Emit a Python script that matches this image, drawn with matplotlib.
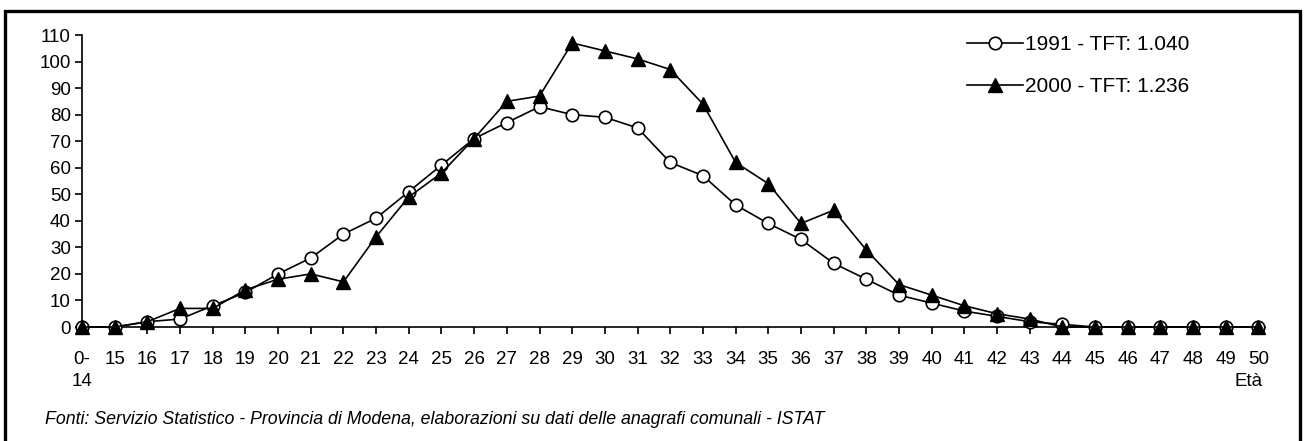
import matplotlib
matplotlib.use('Agg')
import matplotlib.pyplot as plt
from matplotlib.patches import Rectangle

plt.rcParams['font.family'] = ['Liberation Sans', 'DejaVu Sans']

eta = ['0-\n14'] + [str(a) for a in range(15, 51)]
tassi_1991 = [0, 0, 2, 3, 8, 13, 20, 26, 35, 41, 51, 61, 71, 77, 83, 80, 79, 75, 62, 57,
              46, 39, 33, 24, 18, 12, 9, 6, 4, 2, 1, 0, 0, 0, 0, 0, 0]
tassi_2000 = [0, 0, 2, 7, 7, 14, 18, 20, 17, 34, 49, 58, 71, 85, 87, 107, 104, 101, 97, 84,
              62, 54, 39, 44, 29, 16, 12, 8, 5, 3, 0, 0, 0, 0, 0, 0, 0]
etichetta_1991 = '1991 - TFT: 1.040'
etichetta_2000 = '2000 - TFT: 1.236'
fonte = 'Fonti: Servizio Statistico - Provincia di Modena, elaborazioni su dati delle anagrafi comunali - ISTAT'

W, H = 1304, 441
fig = plt.figure(figsize=(W / 100, H / 100), dpi=100)
ax = fig.add_axes([82 / W, 1 - 327 / H, (1265 - 82) / W, (327 - 35) / H])

x = list(range(len(eta)))
ax.plot(x, tassi_1991, color='black', lw=1.2, marker='o', ms=9, mfc='white',
        mec='black', mew=1.2, clip_on=False, label=etichetta_1991, zorder=3)
ax.plot(x, tassi_2000, color='black', lw=1.2, marker='^', ms=10, mfc='black',
        mec='black', clip_on=False, label=etichetta_2000, zorder=4)

ax.set_xlim(0, 36.2)
ax.set_ylim(0, 110)
ax.set_yticks(range(0, 111, 10))
ax.set_xticks(x)
ax.set_xticklabels(eta, linespacing=1.45)
ax.tick_params(axis='both', direction='out', length=5, width=1.2, labelsize=13.5, color='black')
ax.tick_params(axis='x', pad=12)
ax.tick_params(axis='y', pad=3)
for s in ['top', 'right']:
    ax.spines[s].set_visible(False)
for s in ['left', 'bottom']:
    ax.spines[s].set_linewidth(1.2)

ax.legend(loc='upper left', bbox_to_anchor=(967 / W, 1 - 35 / H), bbox_transform=fig.transFigure,
          frameon=False, fontsize=15, handlelength=2.7, handletextpad=0.1, labelspacing=1.1,
          borderaxespad=0, borderpad=0)

fig.text(1263 / W, 1 - 381 / H, 'Età', ha='right', va='center', fontsize=13.5)
fig.text(45 / W, 1 - 419 / H, fonte, ha='left', va='center', fontsize=12.8, style='italic')

fig.patches.append(Rectangle((5 / W, -0.1), (1300 - 5) / W, 1.1 - 11 / H, transform=fig.transFigure,
                             fill=False, edgecolor='black', lw=2.4, figure=fig))

plt.savefig('out.png', dpi=100)
